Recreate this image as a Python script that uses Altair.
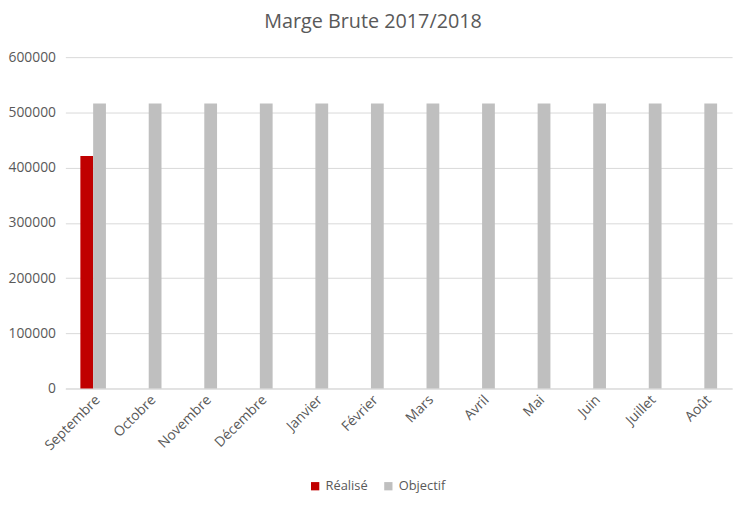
import altair as alt
import pandas as pd

mois = ["Septembre", "Octobre", "Novembre", "Décembre", "Janvier", "Février",
        "Mars", "Avril", "Mai", "Juin", "Juillet", "Août"]
realise = [421000, None, None, None, None, None, None, None, None, None, None, None]
objectif = [516000, 516000, 516000, 516000, 516000, 516000,
            516000, 516000, 516000, 516000, 516000, 516000]
series = ["Réalisé", "Objectif"]
colors = ["#c00000", "#bfbfbf"]

rows = []
for i, m in enumerate(mois):
    rows.append({"mois": m, "serie": series[0], "valeur": realise[i]})
    rows.append({"mois": m, "serie": series[1], "valeur": objectif[i]})
df = pd.DataFrame(rows)

font = "Open Sans"
grey = "#595959"

chart = alt.Chart(df).mark_bar().encode(
    x=alt.X("mois:N", sort=mois, title=None,
            scale=alt.Scale(paddingInner=0.54, paddingOuter=0.27),
            axis=alt.Axis(labelAngle=-45, labelAlign="right", labelBaseline="top",
                          labelFontSize=14, labelColor=grey, labelFont=font, grid=False,
                          ticks=False, domainColor="#d9d9d9", labelPadding=4)),
    xOffset=alt.XOffset("serie:N", sort=series),
    y=alt.Y("valeur:Q", title=None,
            scale=alt.Scale(domain=[0, 600000]),
            axis=alt.Axis(values=[0, 100000, 200000, 300000, 400000, 500000, 600000],
                          format="d", labelFontSize=14, labelColor=grey, labelFont=font,
                          ticks=False, domain=False, gridColor="#d9d9d9", labelPadding=10)),
    color=alt.Color("serie:N", sort=series,
                    scale=alt.Scale(domain=series, range=colors),
                    legend=alt.Legend(title=None, orient="none", direction="horizontal",
                                      legendX=246, legendY=427, symbolType="square",
                                      symbolSize=70, labelFontSize=13, labelColor=grey,
                                      labelFont=font, columnPadding=14)),
).properties(
    width=674, height=335,
    background="white",
    title=alt.TitleParams("Marge Brute 2017/2018", fontSize=20, color=grey, font=font,
                          fontWeight="normal", dx=-26, offset=18),
    autosize=alt.AutoSizeParams(type="none"),
    padding={"left": 58, "top": 47, "right": 10, "bottom": 110},
).configure_view(stroke=None)

chart.save("out.html", embed_options={"renderer": "svg", "actions": False})
